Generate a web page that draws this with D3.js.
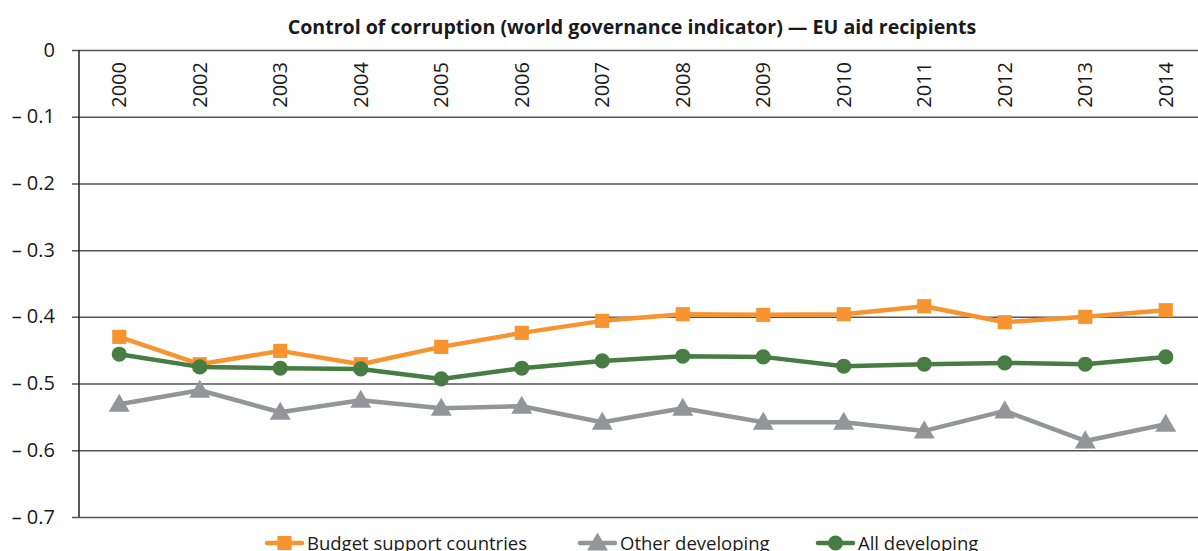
<!DOCTYPE html>
<html>
<head>
<meta charset="utf-8">
<script src="https://cdn.jsdelivr.net/npm/d3@7"></script>
<style>
  body { margin: 0; background: #fff; }
  svg text { font-family: "Open Sans", "DejaVu Sans", sans-serif; fill: #1a1a1a; }
</style>
</head>
<body>
<svg id="chart"></svg>
<script>
const width = 1198;
const height = 551;
const margin = { top: 50, right: -8, bottom: 34, left: 79 };

const years = ["2000", "2002", "2003", "2004", "2005", "2006", "2007", "2008", "2009", "2010", "2011", "2012", "2013", "2014"];
const budgetSupport = [-0.430, -0.471, -0.451, -0.471, -0.445, -0.424, -0.406, -0.396, -0.397, -0.396, -0.384, -0.408, -0.400, -0.390];
const otherDeveloping = [-0.531, -0.510, -0.543, -0.525, -0.537, -0.534, -0.558, -0.537, -0.558, -0.558, -0.571, -0.541, -0.586, -0.561];
const allDeveloping = [-0.456, -0.475, -0.477, -0.478, -0.493, -0.477, -0.466, -0.459, -0.460, -0.474, -0.471, -0.469, -0.471, -0.460];
const yTicks = [0, -0.1, -0.2, -0.3, -0.4, -0.5, -0.6, -0.7];

const series = [
    { name: "Budget support countries", values: budgetSupport, color: "#f7942f", symbol: d3.symbolSquare },
    { name: "Other developing", values: otherDeveloping, color: "#939598", symbol: d3.symbolTriangle },
    { name: "All developing", values: allDeveloping, color: "#477c42", symbol: d3.symbolCircle }
];

const svg = d3.select("#chart")
    .attr("width", width)
    .attr("height", height);

const x = d3.scalePoint()
    .domain(years)
    .range([margin.left, width - margin.right])
    .padding(0.5);

const y = d3.scaleLinear()
    .domain([-0.7, 0])
    .range([height - margin.bottom, margin.top]);

// title
svg.append("text")
    .attr("x", 632)
    .attr("y", 34)
    .attr("text-anchor", "middle")
    .style("font-size", "19.6px")
    .style("font-weight", "bold")
    .text("Control of corruption (world governance indicator) \u2014 EU aid recipients");

// gridlines + y labels
const yAxis = svg.append("g")
    .attr("transform", `translate(${margin.left},0)`)
    .call(d3.axisLeft(y)
        .tickValues(yTicks)
        .tickSize(-(width - margin.left + 10))
        .tickPadding(24)
        .tickFormat(d => d === 0 ? "0" : "\u2013 " + Math.abs(d).toFixed(1)));
yAxis.select(".domain").remove();
yAxis.selectAll(".tick line")
    .attr("x1", -7)
    .attr("stroke", "#555")
    .attr("stroke-width", 1.5);
yAxis.selectAll(".tick text")
    .style("font-size", "20px")
    .attr("dy", "0.3em")
    .attr("fill", "#1a1a1a");

svg.append("line")
    .attr("x1", margin.left).attr("x2", margin.left)
    .attr("y1", y(0)).attr("y2", y(-0.7))
    .attr("stroke", "#222")
    .attr("stroke-width", 1.5);

// year labels inside plot, rotated
svg.append("g")
    .selectAll("text")
    .data(years)
    .join("text")
    .attr("transform", d => `translate(${x(d) + 7},${y(0) + 12}) rotate(-90)`)
    .attr("text-anchor", "end")
    .style("font-size", "20px")
    .text(d => d);

// lines and markers
const line = d3.line()
    .x((d, i) => x(years[i]))
    .y(d => y(d));

const symSize = s => s === d3.symbolTriangle ? 190 : s === d3.symbolCircle ? 180 : 200;

series.forEach(s => {
    svg.append("path")
        .datum(s.values)
        .attr("fill", "none")
        .attr("stroke", s.color)
        .attr("stroke-width", 4.5)
        .attr("stroke-linejoin", "round")
        .attr("d", line);

    svg.append("g")
        .selectAll("path")
        .data(s.values)
        .join("path")
        .attr("transform", (d, i) => `translate(${x(years[i])},${y(d) + (s.symbol === d3.symbolTriangle ? 1.5 : 0)})`)
        .attr("d", d3.symbol().type(s.symbol).size(symSize(s.symbol)))
        .attr("fill", s.color);
});

// legend
const legendPos = [267, 580, 818];
const legend = svg.append("g")
    .selectAll("g")
    .data(series)
    .join("g")
    .attr("transform", (d, i) => `translate(${legendPos[i]},543)`);

legend.append("line")
    .attr("x1", 0).attr("x2", 35)
    .attr("stroke", d => d.color)
    .attr("stroke-width", 4.5)
    .attr("stroke-linecap", "round");

legend.append("path")
    .attr("transform", d => `translate(17.5,${d.symbol === d3.symbolTriangle ? 1.5 : 0})`)
    .attr("d", d => d3.symbol().type(d.symbol).size(symSize(d.symbol))())
    .attr("fill", d => d.color);

legend.append("text")
    .attr("x", 40)
    .attr("y", 7)
    .style("font-size", "18.5px")
    .text(d => d.name);
</script>
</body>
</html>
